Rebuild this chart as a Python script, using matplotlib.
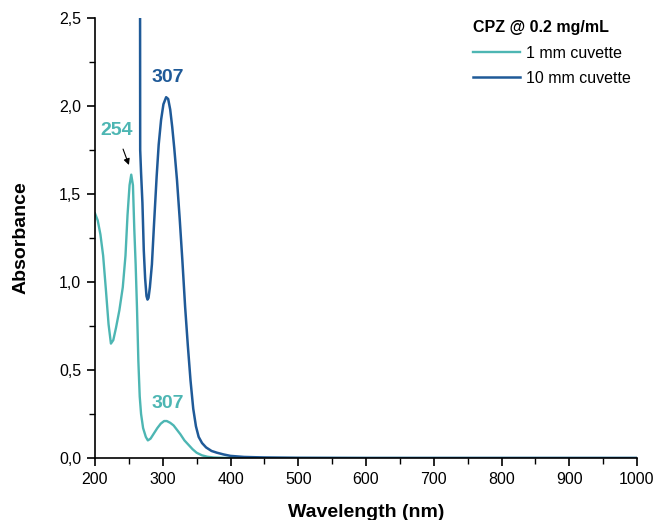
import matplotlib
matplotlib.use("Agg")
import matplotlib.pyplot as plt
from matplotlib.ticker import MultipleLocator, FuncFormatter

plt.rcParams['font.family'] = ['Liberation Sans', 'DejaVu Sans']

# 1 mm cuvette
wl_1mm = [200, 204, 208, 212, 216, 220, 223.5, 227, 231, 236, 241, 245, 248, 251, 253.5,
          256, 258, 260, 262, 264, 266, 268, 271, 275, 278, 282, 287, 292, 297, 302, 306,
          311, 316, 321, 326, 332, 338, 344, 350, 358, 366, 375, 390, 420, 1000]
abs_1mm = [1.39, 1.35, 1.27, 1.15, 0.96, 0.76, 0.65, 0.67, 0.74, 0.84, 0.97, 1.15, 1.38, 1.55, 1.61,
           1.55, 1.30, 1.10, 0.85, 0.55, 0.35, 0.25, 0.17, 0.12, 0.10, 0.11, 0.14, 0.17, 0.195, 0.21, 0.21,
           0.20, 0.185, 0.16, 0.135, 0.10, 0.075, 0.05, 0.03, 0.015, 0.007, 0.003, 0.001, 0.0, 0.0]

# 10 mm cuvette
wl_10mm = [266.5, 266.7, 268, 270, 272, 274, 276, 277.5, 279, 281, 284, 287, 291, 294, 297.5,
           301, 305, 308, 311, 314, 317, 321, 325, 329, 333, 337, 341, 345, 349, 353, 358,
           364, 372, 380, 390, 400, 420, 450, 500, 600, 1000]
abs_10mm = [2.60, 1.75, 1.62, 1.45, 1.18, 1.02, 0.92, 0.90, 0.91, 0.97, 1.10, 1.32, 1.60, 1.78, 1.92,
            2.01, 2.05, 2.04, 1.98, 1.88, 1.76, 1.58, 1.36, 1.12, 0.86, 0.64, 0.44, 0.28, 0.18, 0.12, 0.085,
            0.06, 0.04, 0.03, 0.02, 0.012, 0.006, 0.003, 0.001, 0.0, 0.0]

series_labels = ["1 mm cuvette", "10 mm cuvette"]
legend_title = "CPZ @ 0.2 mg/mL"
peak_1mm = [254, 307]
peak_10mm = [307]

teal = "#4DB6B3"
blue = "#1F5A98"

fig = plt.figure(figsize=(6.56, 5.2), dpi=100)
ax = fig.add_axes([95/656, 62/520, 542/656, 440/520])

ax.plot(wl_1mm, abs_1mm, color=teal, lw=1.7, label=series_labels[0])
ax.plot(wl_10mm, abs_10mm, color=blue, lw=1.8, label=series_labels[1])

ax.set_xlim(200, 1000)
ax.set_ylim(0, 2.5)
ax.xaxis.set_major_locator(MultipleLocator(100))
ax.xaxis.set_minor_locator(MultipleLocator(50))
ax.yaxis.set_major_locator(MultipleLocator(0.5))
ax.yaxis.set_minor_locator(MultipleLocator(0.25))
ax.yaxis.set_major_formatter(FuncFormatter(lambda v, p: f"{v:.1f}".replace('.', ',')))

for s in ['top', 'right']:
    ax.spines[s].set_visible(False)
for s in ['left', 'bottom']:
    ax.spines[s].set_linewidth(1.2)
ax.tick_params(which='major', direction='out', length=6, width=1.2, labelsize=11.5,
               colors='black', pad=4)
ax.tick_params(which='minor', direction='out', length=4, width=1.0)

ax.set_xlabel("Wavelength (nm)", fontsize=14, fontweight='bold', labelpad=12)
ax.set_ylabel("Absorbance", fontsize=14, fontweight='bold', labelpad=21)

ax.text(232, 1.86, str(peak_1mm[0]), color=teal, fontsize=14, fontweight='bold', ha='center', va='center')
ax.text(308, 2.16, str(peak_10mm[0]), color=blue, fontsize=14, fontweight='bold', ha='center', va='center')
ax.text(308, 0.31, str(peak_1mm[1]), color=teal, fontsize=14, fontweight='bold', ha='center', va='center')
ax.annotate("", xy=(251.5, 1.65), xytext=(240, 1.77),
            arrowprops=dict(arrowstyle='-|>', color='black', lw=0.8, mutation_scale=9))

leg = ax.legend(loc='upper left', bbox_to_anchor=(0.677, 1.02), frameon=False, fontsize=11.5,
                title=legend_title, title_fontproperties={'weight': 'bold', 'size': 11.5},
                handlelength=2.95, handletextpad=0.35, labelspacing=0.64, borderpad=0.2)
leg._legend_box.align = "left"

fig.savefig("out.png", dpi=100)
